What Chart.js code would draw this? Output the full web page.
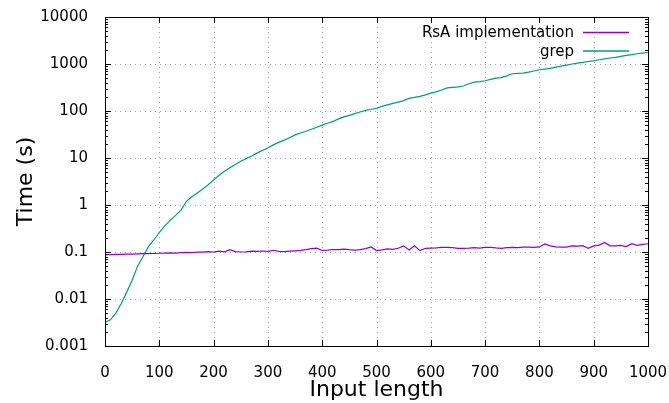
<!DOCTYPE html>
<html>
<head>
<meta charset="utf-8">
<script src="https://cdn.jsdelivr.net/npm/chart.js@4/dist/chart.umd.min.js"></script>
<style>
  body { margin: 0; background: #fff; }
  #wrap { width: 669px; height: 403px; }
</style>
</head>
<body>
<div id="wrap"><canvas id="myChart"></canvas></div>
<script>
// input lengths (x), step 10
const inputLength = [];
for (let i = 0; i <= 100; i++) inputLength.push(i * 10);

// times in seconds
const rsaTime = [
    0.088, 0.088, 0.089, 0.089, 0.090, 0.090, 0.091, 0.092, 0.092, 0.093,
    0.094, 0.095, 0.096, 0.095, 0.097, 0.098, 0.097, 0.100, 0.099, 0.102,
    0.100, 0.104, 0.101, 0.112, 0.102, 0.100, 0.101, 0.104, 0.103, 0.105,
    0.103, 0.109, 0.103, 0.102, 0.104, 0.106, 0.108, 0.112, 0.118, 0.121,
    0.108, 0.110, 0.113, 0.112, 0.115, 0.112, 0.110, 0.112, 0.118, 0.128,
    0.107, 0.111, 0.116, 0.114, 0.120, 0.135, 0.110, 0.135, 0.107, 0.120,
    0.121, 0.122, 0.125, 0.126, 0.124, 0.120, 0.119, 0.121, 0.124, 0.121,
    0.125, 0.126, 0.122, 0.120, 0.124, 0.126, 0.124, 0.127, 0.127, 0.126,
    0.128, 0.148, 0.135, 0.128, 0.127, 0.127, 0.135, 0.133, 0.136, 0.120,
    0.135, 0.140, 0.160, 0.135, 0.135, 0.138, 0.130, 0.150, 0.138, 0.145,
    0.150
];
const grepTime = [
    0.0032, 0.0036, 0.0050, 0.0080, 0.014, 0.025, 0.050, 0.080, 0.13, 0.18,
    0.26, 0.36, 0.47, 0.60, 0.78, 1.2, 1.5, 1.8, 2.2, 2.7,
    3.4, 4.3, 5.2, 6.2, 7.3, 8.5, 9.7, 11, 12.7, 14.5,
    16.5, 19, 21.5, 24, 27, 31, 34, 37, 41, 45,
    50, 55, 60, 68, 75, 81, 88, 95, 103, 109,
    114, 125, 135, 145, 155, 166, 185, 195, 205, 220,
    240, 255, 280, 310, 318, 325, 340, 380, 410, 420,
    440, 470, 500, 515, 560, 620, 630, 640, 670, 710,
    755, 780, 810, 860, 900, 950, 1000, 1040, 1080, 1130,
    1170, 1230, 1280, 1340, 1380, 1450, 1520, 1580, 1650, 1710,
    1780
];

const xTicks = [0, 100, 200, 300, 400, 500, 600, 700, 800, 900, 1000];
const yTicks = [0.001, 0.01, 0.1, 1, 10, 100, 1000, 10000];
const yTickLabels = ['0.001', '0.01', '0.1', '1', '10', '100', '1000', '10000'];

const FONT = 'DejaVu Sans';

// gnuplot style frame, dotted grid and inward tick marks
const framePlugin = {
    id: 'frame',
    beforeDatasetsDraw(chart) {
        const { ctx, chartArea: a, scales: { x, y } } = chart;
        ctx.save();
        ctx.strokeStyle = '#a0a0a0';
        ctx.lineWidth = 1;
        ctx.setLineDash([1, 4]);
        ctx.beginPath();
        xTicks.slice(1, -1).forEach(v => {
            const px = Math.round(x.getPixelForValue(v)) + 0.5;
            ctx.moveTo(px, a.top); ctx.lineTo(px, a.bottom);
        });
        yTicks.slice(1, -1).forEach(v => {
            const py = Math.round(y.getPixelForValue(v)) + 0.5;
            ctx.moveTo(a.left, py); ctx.lineTo(a.right, py);
        });
        ctx.stroke();
        ctx.restore();
    },
    afterDatasetsDraw(chart) {
        const { ctx, chartArea: a, scales: { x, y } } = chart;
        ctx.save();
        ctx.strokeStyle = '#000';
        ctx.lineWidth = 1;
        ctx.beginPath();
        // x ticks
        xTicks.forEach(v => {
            const px = Math.round(x.getPixelForValue(v)) + 0.5;
            ctx.moveTo(px, a.bottom); ctx.lineTo(px, a.bottom - 6);
            ctx.moveTo(px, a.top); ctx.lineTo(px, a.top + 6);
        });
        // y major + minor ticks
        yTicks.forEach((v, i) => {
            const py = Math.round(y.getPixelForValue(v)) + 0.5;
            ctx.moveTo(a.left, py); ctx.lineTo(a.left + 6, py);
            ctx.moveTo(a.right, py); ctx.lineTo(a.right - 6, py);
            if (i < yTicks.length - 1) {
                for (let m = 2; m <= 9; m++) {
                    const pm = Math.round(y.getPixelForValue(v * m)) + 0.5;
                    ctx.moveTo(a.left, pm); ctx.lineTo(a.left + 3, pm);
                    ctx.moveTo(a.right, pm); ctx.lineTo(a.right - 3, pm);
                }
            }
        });
        ctx.stroke();
        ctx.strokeRect(Math.round(a.left) + 0.5, Math.round(a.top) + 0.5,
            Math.round(a.right - a.left), Math.round(a.bottom - a.top));
        ctx.restore();
    },
    afterDraw(chart) {
        // legend, top right inside the plot
        const { ctx } = chart;
        ctx.save();
        ctx.font = '15px "' + FONT + '"';
        ctx.textAlign = 'right';
        ctx.textBaseline = 'middle';
        chart.data.datasets.forEach((ds, i) => {
            const ly = 32.5 + i * 18.5;
            ctx.fillStyle = '#000';
            ctx.fillText(ds.label, 574, ly + 1);
            ctx.strokeStyle = ds.borderColor;
            ctx.lineWidth = 1.3;
            ctx.beginPath();
            ctx.moveTo(583, ly); ctx.lineTo(629, ly);
            ctx.stroke();
        });
        ctx.restore();
    }
};

const ctx = document.getElementById('myChart').getContext('2d');
new Chart(ctx, {
    type: 'scatter',
    data: {
        datasets: [{
            label: 'RsA implementation',
            data: inputLength.map((x, i) => ({ x, y: rsaTime[i] })),
            borderColor: '#9400d3',
            borderWidth: 1.2,
            showLine: true,
            pointRadius: 0
        }, {
            label: 'grep',
            data: inputLength.map((x, i) => ({ x, y: grepTime[i] })),
            borderColor: '#009e73',
            borderWidth: 1.2,
            showLine: true,
            pointRadius: 0
        }]
    },
    options: {
        responsive: true,
        maintainAspectRatio: false,
        animation: false,
        layout: { padding: { top: 17, right: 21, left: 0, bottom: 0 } },
        plugins: { legend: { display: false }, tooltip: { enabled: false } },
        scales: {
            x: {
                type: 'linear',
                min: 0,
                max: 1000,
                afterBuildTicks: s => { s.ticks = xTicks.map(v => ({ value: v })); },
                afterFit: s => { s.height = 57; s.paddingLeft = 0; s.paddingRight = 0; },
                grid: { display: false },
                border: { display: false },
                ticks: {
                    autoSkip: false, maxRotation: 0, padding: 10, color: '#000', font: { family: FONT, size: 15 },
                    callback: v => String(v)
                },
                title: { display: true, text: 'Input length', color: '#000', font: { family: FONT, size: 22 }, padding: { top: 0, bottom: 0 } }
            },
            y: {
                type: 'logarithmic',
                min: 0.001,
                max: 10000,
                afterBuildTicks: s => { s.ticks = yTicks.map(v => ({ value: v })); },
                afterFit: s => { s.width = 105; s.paddingTop = 0; s.paddingBottom = 0; },
                grid: { display: false },
                border: { display: false },
                ticks: {
                    autoSkip: false, padding: 9, color: '#000', font: { family: FONT, size: 15 },
                    callback: (v, i) => yTickLabels[i]
                },
                title: { display: true, text: 'Time (s)', color: '#000', font: { family: FONT, size: 22 }, padding: { top: 13, bottom: 0 } }
            }
        }
    },
    plugins: [framePlugin]
});
</script>
</body>
</html>
